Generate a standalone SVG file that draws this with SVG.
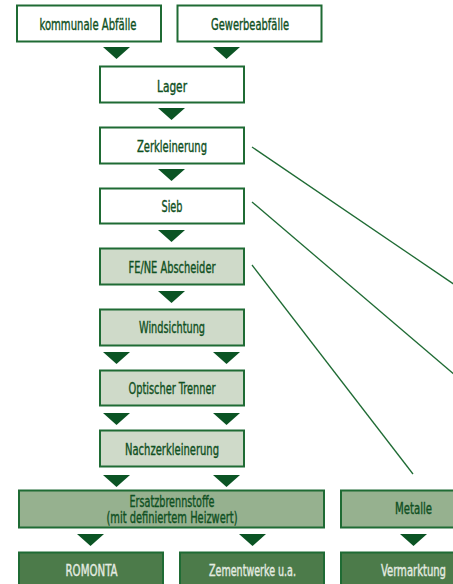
<svg xmlns="http://www.w3.org/2000/svg" width="453" height="584" viewBox="0 0 453 584">
<style>
.b{stroke:#1f6b34;stroke-width:2}
.w{fill:#ffffff}
.l{fill:#cfdac9}
.m{fill:#96b18f}
.d{fill:#4c7b4a}
.a{fill:#0b5424}
.t{font-family:"DejaVu Sans Condensed","DejaVu Sans",sans-serif;font-stretch:condensed;font-size:16.5px;fill:#0f5022;stroke:#0f5022;stroke-width:0.4;text-anchor:middle}
.tw{fill:#e4ebe1;stroke:#e4ebe1}
.c{stroke:#1f6b34;stroke-width:1.3;fill:none}
</style>
<defs>
<path id="ar" d="M0,0 H27 L13.5,12 Z"/>
</defs>
<rect width="453" height="584" fill="#ffffff"/>
<g id="connectors">
<line class="c" x1="252" y1="147" x2="455" y2="285"/>
<line class="c" x1="252" y1="202" x2="455" y2="375"/>
<line class="c" x1="252" y1="265" x2="413" y2="474"/>
<g class="a">
<use href="#ar" x="103" y="47"/><use href="#ar" x="213" y="47"/>
<use href="#ar" x="158" y="108"/>
<use href="#ar" x="158" y="169"/>
<use href="#ar" x="158" y="230"/>
<use href="#ar" x="158" y="291"/>
<use href="#ar" x="103" y="352"/><use href="#ar" x="213" y="352"/>
<use href="#ar" x="103" y="413"/><use href="#ar" x="213" y="413"/>
<use href="#ar" x="103" y="475"/><use href="#ar" x="213" y="475"/>
<use href="#ar" x="77" y="534"/><use href="#ar" x="239" y="534"/><use href="#ar" x="400" y="534"/>
</g>
</g>
<g id="n-kommunal"><rect class="b w" x="17" y="5.5" width="144" height="36"/><text class="t" x="88" y="30" textLength="97" lengthAdjust="spacingAndGlyphs">kommunale Abfälle</text></g>
<g id="n-gewerbe"><rect class="b w" x="177.5" y="5.5" width="144" height="36"/><text class="t" x="250" y="30" textLength="78" lengthAdjust="spacingAndGlyphs">Gewerbeabfälle</text></g>
<g id="n-lager"><rect class="b w" x="100" y="66.5" width="144" height="36"/><text class="t" x="172" y="91.5" textLength="30" lengthAdjust="spacingAndGlyphs">Lager</text></g>
<g id="n-zerkleinerung"><rect class="b w" x="100" y="127.5" width="144" height="36"/><text class="t" x="172" y="152" textLength="70" lengthAdjust="spacingAndGlyphs">Zerkleinerung</text></g>
<g id="n-sieb"><rect class="b w" x="100" y="188.5" width="144" height="35"/><text class="t" x="172" y="212" textLength="21" lengthAdjust="spacingAndGlyphs">Sieb</text></g>
<g id="n-fene"><rect class="b l" x="100" y="248.5" width="144" height="36"/><text class="t" x="172" y="272.7" textLength="87" lengthAdjust="spacingAndGlyphs">FE/NE Abscheider</text></g>
<g id="n-wind"><rect class="b l" x="100" y="309.5" width="144" height="36"/><text class="t" x="172" y="333" textLength="66" lengthAdjust="spacingAndGlyphs">Windsichtung</text></g>
<g id="n-optisch"><rect class="b l" x="100" y="370.5" width="144" height="35"/><text class="t" x="172" y="394" textLength="87" lengthAdjust="spacingAndGlyphs">Optischer Trenner</text></g>
<g id="n-nach"><rect class="b l" x="100" y="430.5" width="144" height="36"/><text class="t" x="172" y="455" textLength="94" lengthAdjust="spacingAndGlyphs">Nachzerkleinerung</text></g>
<g id="n-ersatz"><rect class="b m" x="19" y="490.5" width="305" height="37"/><text class="t" x="172" y="507" textLength="85" lengthAdjust="spacingAndGlyphs">Ersatzbrennstoffe</text><text class="t" x="172" y="522.5" textLength="131" lengthAdjust="spacingAndGlyphs">(mit definiertem Heizwert)</text></g>
<g id="n-metalle"><rect class="b m" x="341" y="490.5" width="144" height="37"/><text class="t" x="413.5" y="514" textLength="37" lengthAdjust="spacingAndGlyphs">Metalle</text></g>
<g id="n-romonta"><rect class="b d" x="19" y="552.5" width="144" height="40"/><text class="t tw" x="91.5" y="576" textLength="52" lengthAdjust="spacingAndGlyphs">ROMONTA</text></g>
<g id="n-zement"><rect class="b d" x="180" y="552.5" width="144" height="40"/><text class="t tw" x="252.5" y="576" textLength="87" lengthAdjust="spacingAndGlyphs">Zementwerke u.a.</text></g>
<g id="n-vermarktung"><rect class="b d" x="341" y="552.5" width="144" height="40"/><text class="t tw" x="413.5" y="576" textLength="65" lengthAdjust="spacingAndGlyphs">Vermarktung</text></g>
</svg>
